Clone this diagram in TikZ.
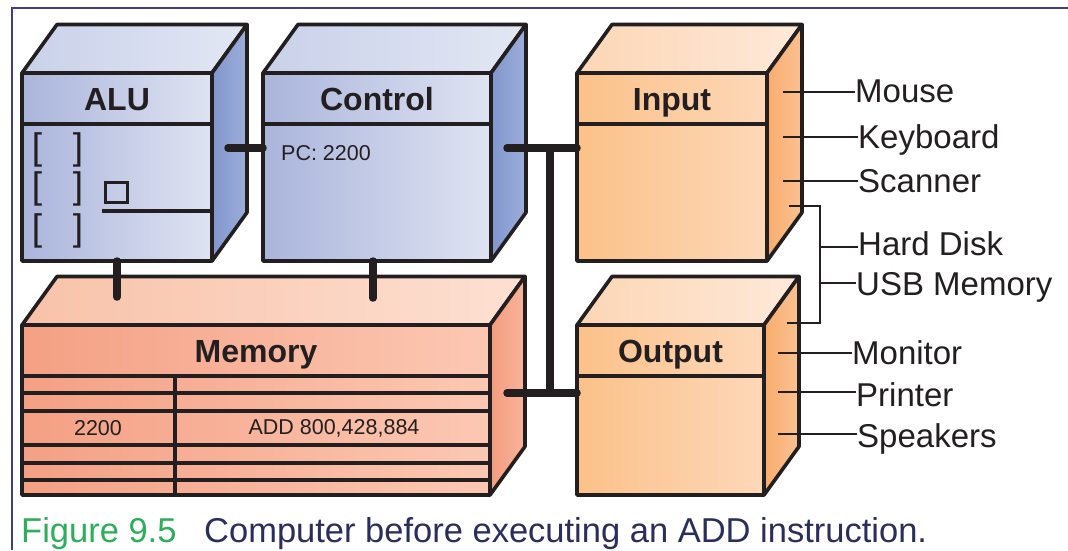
\documentclass[tikz,border=0pt]{standalone}
\usepackage{fontspec}
\setmainfont{Liberation Sans}
\usetikzlibrary{calc}

\definecolor{ink}{HTML}{231F20}
\definecolor{framec}{HTML}{3B3F8C}
\definecolor{bluL}{HTML}{AAB5DB}
\definecolor{bluR}{HTML}{DFE3F2}
\definecolor{bluSideA}{HTML}{8196CD}
\definecolor{bluSideB}{HTML}{9DAEDA}
\definecolor{bluTopA}{HTML}{C9D1EA}
\definecolor{bluTopB}{HTML}{E3E7F4}
\definecolor{orgL}{HTML}{FBC189}
\definecolor{orgR}{HTML}{FDD8B8}
\definecolor{orgSideA}{HTML}{F8AC6D}
\definecolor{orgSideB}{HTML}{FBC292}
\definecolor{orgTopA}{HTML}{FCD6B5}
\definecolor{orgTopB}{HTML}{FEE9D9}
\definecolor{memL}{HTML}{F4A084}
\definecolor{memR}{HTML}{FCC8B3}
\definecolor{memSideA}{HTML}{F39C7E}
\definecolor{memSideB}{HTML}{F8B49B}
\definecolor{memTopA}{HTML}{F8C2A9}
\definecolor{memTopB}{HTML}{FDE0D2}
\definecolor{figgreen}{HTML}{2EAE5A}
\definecolor{capnavy}{HTML}{2A2E5C}

\tikzset{
  edge/.style={draw=ink, line width=3.6pt, line join=round},
  face/.style={edge, inner sep=0pt, outer sep=0pt},
  headbox/.style={face, minimum height=51pt, text=ink,
    font=\fontsize{32}{32}\selectfont\bfseries, text height=23pt, text depth=0pt},
  bodybox/.style={face},
  blueface/.style={left color=bluL, right color=bluR},
  orangeface/.style={left color=orgL, right color=orgR},
  memface/.style={left color=memL, right color=memR},
  rowline/.style={draw=ink, line width=3.2pt},
  bus/.style={draw=ink, line width=7.5pt, line cap=round},
  tick/.style={draw=ink, line width=1.4pt},
  devlabel/.style={inner sep=0pt, text=ink, font=\fontsize{33}{33}\selectfont, anchor=base west},
  smalltext/.style={inner sep=0pt, text=ink, font=\fontsize{21.5}{21.5}\selectfont},
  brk/.style={inner sep=0pt, text=ink, font=\fontsize{37}{37}\selectfont, anchor=base},
  captext/.style={anchor=base west, inner sep=0pt, font=\fontsize{34.5}{34.5}\selectfont},
}

% top and right faces of a box whose front is #1 (upper part) and #2 (lower part)
\newcommand\boxsides[6]{%
  \filldraw[edge, left color=#3, right color=#4]
    (#1.north west) -- ++(35,-48.5) -- ($(#1.north east)+(35,-48.5)$) -- (#1.north east) -- cycle;
  \filldraw[edge, left color=#5, right color=#6]
    (#1.north east) -- ++(35,-48.5) -- ($(#2.south east)+(35,-48.5)$) -- (#2.south east) -- cycle;
}

\begin{document}
\begin{tikzpicture}[x=1pt, y=-1pt]
\useasboundingbox (0,0) rectangle (1068,550);
\fill[white] (0,0) rectangle (1068,550);

% frame
\draw[framec, line width=2pt] (12,550) -- (12,8) -- (1068,8);

% ---- ALU ----
\node[headbox, blueface, minimum width=190pt] (aluh) at (117,98.5) {ALU};
\node[bodybox, blueface, minimum width=190pt, minimum height=137pt] (alu) at (117,192.5) {};
\boxsides{aluh}{alu}{bluTopA}{bluTopB}{bluSideA}{bluSideB}
\foreach \b in {159,198,240}{
  \node[brk] at (37,\b) {[};
  \node[brk] at (78,\b) {]};
}
\draw[ink, line width=3pt] (105,182) rectangle (127,202);
\draw[rowline] (102,211) -- (alu.east |- 0,211);

% ---- Control ----
\node[headbox, blueface, minimum width=228pt] (ctlh) at (377,98.5) {Control};
\node[bodybox, blueface, minimum width=228pt, minimum height=137pt] (ctl) at (377,192.5) {};
\boxsides{ctlh}{ctl}{bluTopA}{bluTopB}{bluSideA}{bluSideB}
\node[smalltext, anchor=base west] (pc) at (281,160) {PC: 2200};

% ---- Input ----
\node[headbox, orangeface, minimum width=190pt] (inph) at (672,98.5) {Input};
\node[bodybox, orangeface, minimum width=190pt, minimum height=137pt] (inp) at (672,192.5) {};
\boxsides{inph}{inp}{orgTopA}{orgTopB}{orgSideA}{orgSideB}

% ---- Output ----
\node[headbox, orangeface, minimum width=187pt] (outh) at (670.5,350.5) {Output};
\node[bodybox, orangeface, minimum width=187pt, minimum height=119pt] (out) at (670.5,435.5) {};
\boxsides{outh}{out}{orgTopA}{orgTopB}{orgSideA}{orgSideB}

% ---- Memory ----
\node[headbox, memface, minimum width=468pt] (memh) at (256,350.5) {Memory};
\node[bodybox, memface, minimum width=468pt, minimum height=119pt] (mem) at (256,435.5) {};
\boxsides{memh}{mem}{memTopA}{memTopB}{memSideA}{memSideB}
\foreach \r in {393,411,445,463,480}{
  \draw[rowline] (mem.west |- 0,\r) -- (mem.east |- 0,\r);
}
\draw[edge] (175,376) -- (175,495);
\node[smalltext] (addr) at (98,428) {2200};
\node[smalltext] (instr) at (334,428) {ADD 800,428,884};

% ---- connectors ----
\coordinate (aluport) at (228,148);
\coordinate (ctlport) at (507,148);
\coordinate (memport) at (507,393);
\coordinate (busTop) at (550,148);
\coordinate (busBot) at (550,393);
\coordinate (memA) at (117,297);
\coordinate (memB) at (373,298);
\draw[bus] (aluport) -- (aluport -| ctl.west);
\draw[bus] (ctlport) -- (ctlport -| inp.west);
\draw[bus] (memport) -- (memport -| out.west);
\draw[bus] (busTop) -- (busBot);
\draw[bus] (alu.south) -- (memA);
\draw[bus] (memB |- ctl.south) -- (memB);

% ---- devices ----
\node[devlabel] (mouse) at (855,102) {Mouse};
\node[devlabel] (kbd) at (858,148) {Keyboard};
\node[devlabel] (scan) at (858,192) {Scanner};
\node[devlabel] (hdd) at (858,255) {Hard Disk};
\node[devlabel] (usb) at (856,295) {USB Memory};
\node[devlabel] (mon) at (852,364) {Monitor};
\node[devlabel] (prn) at (856,406) {Printer};
\node[devlabel] (spk) at (857,447) {Speakers};

\coordinate (mouseT) at (783,92);
\coordinate (kbdT) at (783,137);
\coordinate (scanT) at (783,181);
\coordinate (monT) at (778,353);
\coordinate (prnT) at (778,392);
\coordinate (spkT) at (778,434);
\draw[tick] (mouseT) -- (mouseT -| mouse.west);
\draw[tick] (kbdT) -- (kbdT -| kbd.west);
\draw[tick] (scanT) -- (scanT -| scan.west);
\draw[tick] (monT) -- (monT -| mon.west);
\draw[tick] (prnT) -- (prnT -| prn.west);
\draw[tick] (spkT) -- (spkT -| spk.west);

\coordinate (storeTop) at (789,206);
\coordinate (storeBot) at (787,323);
\coordinate (storeSpine) at (820,0);
\coordinate (hddT) at (820,247);
\coordinate (usbT) at (820,283);
\draw[tick] (storeTop) -- (storeTop -| storeSpine) -- (storeBot -| storeSpine) -- (storeBot);
\draw[tick] (hddT) -- (hddT -| hdd.west);
\draw[tick] (usbT) -- (usbT -| usb.west);

% ---- caption ----
\node[captext, text=figgreen] (fig) at (21,542) {Figure 9.5};
\node[captext, text=capnavy] (cap) at (204,542) {Computer before executing an ADD instruction.};
\end{tikzpicture}
\end{document}
